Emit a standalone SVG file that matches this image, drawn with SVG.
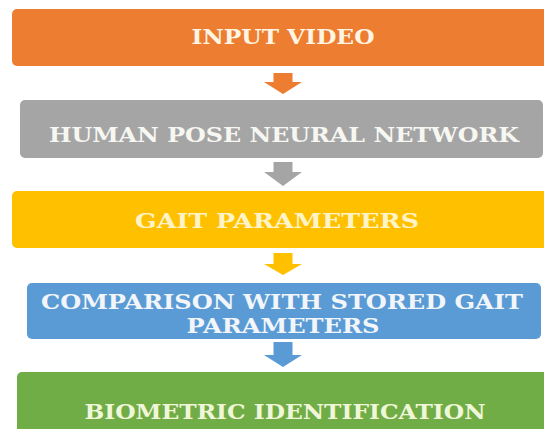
<svg xmlns="http://www.w3.org/2000/svg" width="544" height="429" viewBox="0 0 544 429">
<style>
.lbl{font-family:"DejaVu Serif","Liberation Serif",serif;font-weight:bold;font-size:20px;fill:#FFF5E2;text-anchor:middle}
</style>
<rect width="544" height="429" fill="#FFFFFF"/>
<g id="connectors">
<path d="M273.5 73 H292.5 V82 H302 L283 94 L264 82 H273.5 Z" fill="#ED7D31"/>
<path d="M273.5 162 H292.5 V172 H302 L283 186 L264 172 H273.5 Z" fill="#A5A5A5"/>
<path d="M273.5 253 H292.5 V264 H302 L283 275 L264 264 H273.5 Z" fill="#FFC000"/>
<path d="M273.5 342 H292.5 V355 H302 L283 367 L264 355 H273.5 Z" fill="#5B9BD5"/>
</g>
<g id="node-input-video">
<rect x="12" y="9" width="545" height="57" rx="5" fill="#ED7D31"/>
<text class="lbl" x="283" y="44" textLength="183" lengthAdjust="spacingAndGlyphs">INPUT VIDEO</text>
</g>
<g id="node-human-pose">
<rect x="20" y="100" width="523" height="58" rx="5" fill="#A5A5A5"/>
<text class="lbl" x="284" y="142" textLength="470" lengthAdjust="spacingAndGlyphs" style="fill:#F7F7F2">HUMAN POSE NEURAL NETWORK</text>
</g>
<g id="node-gait-parameters">
<rect x="12" y="191" width="545" height="57" rx="5" fill="#FFC000"/>
<text class="lbl" x="277" y="228" textLength="284" lengthAdjust="spacingAndGlyphs" style="fill:#FFF4C8">GAIT PARAMETERS</text>
</g>
<g id="node-comparison">
<rect x="27" y="283" width="514" height="56" rx="5" fill="#5B9BD5"/>
<text class="lbl" x="282" y="309" textLength="482" lengthAdjust="spacingAndGlyphs" style="fill:#F2F6FA">COMPARISON WITH STORED GAIT</text>
<text class="lbl" x="283" y="333" textLength="193" lengthAdjust="spacingAndGlyphs" style="fill:#F2F6FA">PARAMETERS</text>
</g>
<g id="node-biometric">
<rect x="17" y="372" width="540" height="70" rx="5" fill="#70AD47"/>
<text class="lbl" x="285" y="419" textLength="401" lengthAdjust="spacingAndGlyphs" style="fill:#F0F6D8">BIOMETRIC IDENTIFICATION</text>
</g>
</svg>
